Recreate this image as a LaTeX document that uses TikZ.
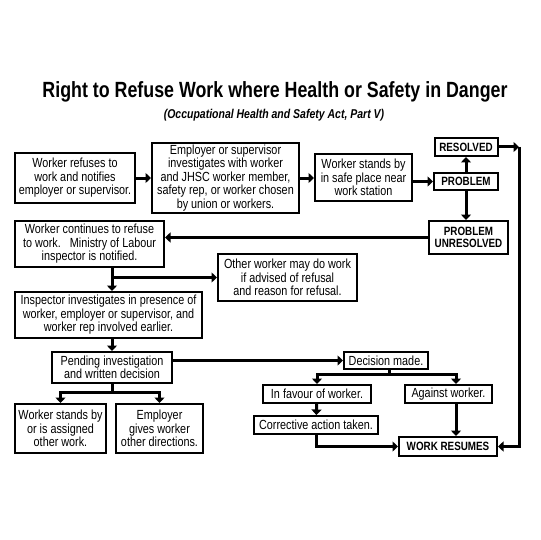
\documentclass[tikz,border=0pt]{standalone}
\usepackage{fontspec}
\setmainfont{Liberation Sans}[FakeStretch=0.82]
\newfontfamily\titlefont{Liberation Sans}[FakeStretch=0.81]
\usepackage{tikz}
\usetikzlibrary{arrows}
\usetikzlibrary{arrows.meta}

\tikzset{
  box/.style={draw, line width=2pt, align=center, inner sep=0pt,
    font=\fontsize{13.2}{13.5}\selectfont},
  bigbox/.style={box, font=\fontsize{12}{11.5}\selectfont\bfseries},
  flow/.style={line width=3pt, -{Triangle[length=5.5pt,width=10pt]}},
  plain/.style={line width=3pt}
}

\begin{document}
\begin{tikzpicture}[x=1pt,y=-1pt]
\useasboundingbox[fill=white] (0,0) rectangle (540,540);
\node at (275,92) {\titlefont\fontsize{22}{24}\selectfont\bfseries Right to Refuse Work where Health or Safety in Danger};
\node at (274,115) {\fontsize{12.8}{13}\selectfont\bfseries\itshape (Occupational Health and Safety Act, Part V)};

\node[box, minimum width=120, minimum height=50] (refuse) at (75,178) {Worker refuses to\\work and notifies\\employer or supervisor.};
\node[box, minimum width=147, minimum height=70] (employer) at (225.5,178) {Employer or supervisor\\investigates with worker\\and JHSC worker member,\\safety rep, or worker chosen\\by union or workers.};
\node[box, minimum width=97, minimum height=47] (standby) at (363.5,177.5) {Worker stands by\\in safe place near\\work station};
\node[bigbox, minimum width=64, minimum height=17] (problem) at (466,181.5) {PROBLEM};
\node[bigbox, minimum width=63, minimum height=18] (resolved) at (466,147) {RESOLVED};
\node[bigbox, minimum width=79, minimum height=33] (unresolved) at (468.5,237.5) {PROBLEM\\UNRESOLVED};
\node[box, minimum width=149, minimum height=46] (continues) at (89.5,244) {Worker continues to refuse\\to work.\ \ \ Ministry of Labour\\inspector is notified.};
\node[box, minimum width=139, minimum height=47] (other) at (287.5,277.5) {Other worker may do work\\if advised of refusal\\and reason for refusal.};
\node[box, minimum width=187, minimum height=46] (inspector) at (108.5,315) {Inspector investigates in presence of\\worker, employer or supervisor, and\\worker rep involved earlier.};
\node[box, minimum width=120, minimum height=31] (pending) at (112,367.5) {Pending investigation\\and written decision};
\node[box, minimum width=91, minimum height=49] (assigned) at (60.5,428.5) {Worker stands by\\or is assigned\\other work.};
\node[box, minimum width=87, minimum height=49] (directions) at (159.5,428.5) {Employer\\gives worker\\other directions.};
\node[box, minimum width=84, minimum height=17] (decision) at (386,360.5) {Decision made.};
\node[box, minimum width=108, minimum height=18] (favour) at (317,394) {In favour of worker.};
\node[box, minimum width=87, minimum height=18] (against) at (448.5,394) {Against worker.};
\node[box, minimum width=124, minimum height=18] (corrective) at (316,425) {Corrective action taken.};
\node[bigbox, minimum width=98, minimum height=19] (resumes) at (448,446.5) {WORK RESUMES};

\coordinate (rtop) at (519,147);
\coordinate (rbot) at (519,446.5);
\coordinate (split1) at (112,392);
\coordinate (split2) at (389,374);
\coordinate (againstcol) at (456,0);

\draw[flow] (refuse) -- (employer);
\draw[flow] (employer.east) -- (standby.west |- employer.east);
\draw[flow] (standby.east |- problem) -- (problem.west);
\draw[flow] (problem) -- (resolved);
\draw[flow] (problem.south) -- (problem.south |- unresolved.north);
\draw[flow] (resolved.east) -- (rtop);
\draw[flow] (rtop) -- (rbot) -- (resumes.east);
\draw[flow] (unresolved.west) -- (unresolved.west -| continues.east);
\draw[flow] (pending |- continues.south) -- (pending |- inspector.north);
\draw[flow] (pending |- other.west) -- (other.west);
\draw[flow] (pending |- inspector.south) -- (pending.north);
\draw[flow] (pending.east |- decision) -- (decision.west);
\draw[plain] (pending.south) -- (split1);
\draw[flow] (split1) -| (assigned.north);
\draw[flow] (split1) -| (directions.north);
\draw[plain] (split2 |- decision.south) -- (split2);
\draw[flow] (split2) -| (favour.north);
\draw[flow] (split2) -| (againstcol |- against.north);
\draw[flow] (favour) -- (corrective);
\draw[flow] (againstcol |- against.south) -- (againstcol |- resumes.north);
\draw[flow] (corrective.south) |- (resumes.west);
\end{tikzpicture}
\end{document}
